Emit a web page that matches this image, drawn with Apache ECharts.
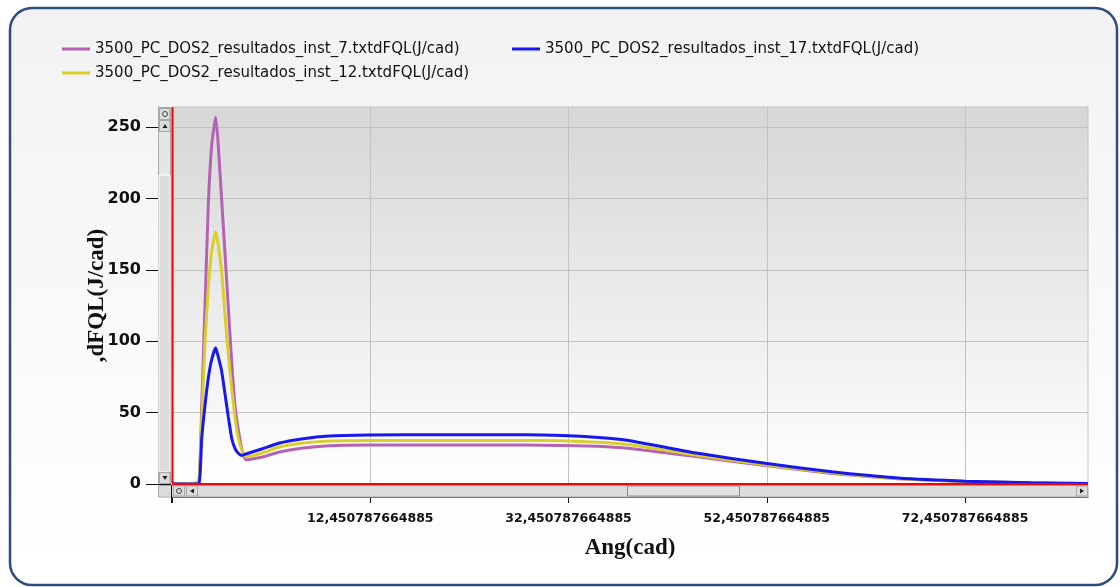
<!DOCTYPE html>
<html>
<head>
<meta charset="utf-8">
<title>dFQL</title>
<script src="https://cdn.jsdelivr.net/npm/echarts@6/dist/echarts.min.js"></script>
<style>
  html, body { margin: 0; padding: 0; background: #ffffff; }
  #chart { width: 1120px; height: 587px; }
</style>
</head>
<body>
<div id="chart"></div>
<script>
// 数据
let angles = [-7.549212335115, -5.5, -4.83, -4.55, -4.22, -3.89, -3.55, -3.14, -2.88, -2.54, -2.2, -1.87, -1.53, -1.2, -0.86, -0.52, -0.1,
  1.5, 3.2, 5.5, 8.3, 12.3, 20, 28, 31.8, 35.5, 38.5, 45.5, 52.3, 59.0, 65.7, 72.45, 79.1, 84.85]
let inst7 = [0, 0, 2, 55, 125, 195, 237, 257, 237, 199, 161, 124, 86, 55, 38, 25, 17,
  18.7, 22.2, 25, 26.8, 27.3, 27.3, 27.3, 27, 26.5, 25, 19, 13, 7.4, 3.6, 1.7, 0.8, 0.3]
let inst12 = [0, 0, 2, 45, 99, 137, 163, 176.7, 167, 149, 118, 91, 67, 47, 32, 24, 19,
  21.5, 25.7, 28.5, 30.1, 30.5, 30.5, 30.5, 30.2, 29.3, 27.6, 20, 13.5, 7.8, 3.8, 1.8, 0.8, 0.3]
let inst17 = [0, 0, 0, 32, 55, 74, 87, 95.4, 89, 79, 63, 47, 32, 25, 21.5, 20, 21,
  24.5, 28.5, 31.5, 33.6, 34.3, 34.5, 34.5, 34, 32.6, 30.5, 21.5, 14.5, 8.5, 4.2, 2, 0.9, 0.3]

let seriesNames = [
  '3500_PC_DOS2_resultados_inst_7.txtdFQL(J/cad)',
  '3500_PC_DOS2_resultados_inst_12.txtdFQL(J/cad)',
  '3500_PC_DOS2_resultados_inst_17.txtdFQL(J/cad)'
]
let seriesColors = ['#b462b4', '#d8cf2c', '#1818ee']

let xMin = -7.549212335115
let xMax = 84.85
let xTickValues = [-7.549212335115, 12.450787664885, 32.450787664885, 52.450787664885, 72.450787664885]
let xLabelValues = [12.450787664885, 32.450787664885, 52.450787664885, 72.450787664885]
let yTickValues = [0, 50, 100, 150, 200, 250]

function pairs (xs, ys) {
  let out = []
  for (let i = 0; i < xs.length; i++) {
    out.push([xs[i], ys[i]])
  }
  return out
}

function fmtAng (v) {
  return String(+v.toFixed(12)).replace('.', ',')
}

let chart = echarts.init(document.getElementById('chart'))

let scrollFill = '#dcdcdc'
let scrollEdge = '#a8a8a8'
let legendText = { fontFamily: 'DejaVu Sans', fontSize: 15, color: '#111', lineHeight: 16 }

let option = {
  backgroundColor: '#ffffff',
  animation: false,
  legend: [
    {
      orient: 'vertical',
      left: 62,
      top: 41,
      padding: 0,
      icon: 'rect',
      itemWidth: 28,
      itemHeight: 3,
      itemGap: 8,
      data: [seriesNames[0], seriesNames[1]],
      textStyle: legendText
    },
    {
      orient: 'vertical',
      left: 512,
      top: 41,
      padding: 0,
      icon: 'rect',
      itemWidth: 28,
      itemHeight: 3,
      data: [seriesNames[2]],
      textStyle: legendText
    }
  ],
  grid: {
    left: 172,
    right: 32,
    top: 107,
    bottom: 103,
    show: true,
    borderColor: '#c4c4c4',
    borderWidth: 1,
    backgroundColor: new echarts.graphic.LinearGradient(0, 0, 0, 1, [
      { offset: 0, color: '#d6d6d6' },
      { offset: 1, color: '#ffffff' }
    ])
  },
  xAxis: {
    type: 'value',
    min: xMin,
    max: xMax,
    interval: 20,
    offset: 13,
    name: 'Ang(cad)',
    nameLocation: 'middle',
    nameGap: 40,
    nameTextStyle: { fontFamily: 'Liberation Serif', fontWeight: 'bold', fontSize: 23, color: '#111' },
    axisLine: { show: true, onZero: false, lineStyle: { color: '#4a4a4a', width: 1 } },
    axisTick: { show: true, length: 6, customValues: xTickValues, lineStyle: { color: '#111' } },
    axisLabel: {
      customValues: xLabelValues,
      margin: 15,
      fontFamily: 'DejaVu Sans',
      fontWeight: 'bold',
      fontSize: 12.5,
      color: '#111',
      formatter: fmtAng
    },
    splitLine: { show: true, lineStyle: { color: '#c2c2c2', width: 1 } }
  },
  yAxis: {
    type: 'value',
    min: 0,
    max: 264,
    interval: 50,
    offset: 14,
    name: ',dFQL(J/cad)',
    nameLocation: 'middle',
    nameGap: 49,
    nameMoveOverlap: false,
    nameTextStyle: { fontFamily: 'Liberation Serif', fontWeight: 'bold', fontSize: 23, color: '#111' },
    axisLine: { show: true, onZero: false, lineStyle: { color: '#4a4a4a', width: 1 } },
    axisTick: { show: true, length: 12, customValues: yTickValues, lineStyle: { color: '#111' } },
    axisLabel: {
      customValues: yTickValues,
      margin: 17,
      fontFamily: 'DejaVu Sans',
      fontWeight: 'bold',
      fontSize: 16,
      color: '#111'
    },
    splitLine: { show: true, lineStyle: { color: '#c2c2c2', width: 1 } }
  },
  series: [
    {
      name: seriesNames[0],
      type: 'line',
      data: pairs(angles, inst7),
      showSymbol: false,
      smooth: 0.15,
      color: seriesColors[0],
      lineStyle: { width: 3, color: seriesColors[0] }
    },
    {
      name: seriesNames[1],
      type: 'line',
      data: pairs(angles, inst12),
      showSymbol: false,
      smooth: 0.15,
      color: seriesColors[1],
      lineStyle: { width: 3, color: seriesColors[1] }
    },
    {
      name: seriesNames[2],
      type: 'line',
      data: pairs(angles, inst17),
      showSymbol: false,
      smooth: 0.15,
      color: seriesColors[2],
      lineStyle: { width: 3, color: seriesColors[2] },
      markLine: {
        silent: true,
        symbol: 'none',
        label: { show: false },
        lineStyle: { color: '#ff0000', width: 2, type: 'solid' },
        data: [{ yAxis: 0 }]
      }
    }
  ],
  graphic: [
    // outer panel
    {
      type: 'rect',
      z: -10,
      shape: { x: 10, y: 8, width: 1107, height: 577, r: 22 },
      style: {
        fill: new echarts.graphic.LinearGradient(0, 0, 0, 1, [
          { offset: 0, color: '#f2f2f2' },
          { offset: 1, color: '#ffffff' }
        ]),
        stroke: '#2c4d7e',
        lineWidth: 2.5
      }
    },
    // vertical scrollbar
    { type: 'rect', z: 5, shape: { x: 158.5, y: 107.5, width: 12, height: 376.5 }, style: { fill: '#e6e6e6', stroke: scrollEdge, lineWidth: 1 } },
    { type: 'rect', z: 6, shape: { x: 159, y: 175, width: 11, height: 297 }, style: { fill: scrollFill, stroke: '#ffffff', lineWidth: 1 } },
    { type: 'rect', z: 6, shape: { x: 159.5, y: 108.5, width: 10.5, height: 11 }, style: { fill: scrollFill, stroke: scrollEdge, lineWidth: 1 } },
    { type: 'circle', z: 7, shape: { cx: 165, cy: 114, r: 2.5 }, style: { fill: 'none', stroke: '#444', lineWidth: 1 } },
    { type: 'rect', z: 6, shape: { x: 159.5, y: 120.5, width: 10.5, height: 11 }, style: { fill: scrollFill, stroke: scrollEdge, lineWidth: 1 } },
    { type: 'polygon', z: 7, shape: { points: [[165, 124], [162.5, 128], [167.5, 128]] }, style: { fill: '#222' } },
    { type: 'rect', z: 6, shape: { x: 159.5, y: 472.5, width: 10.5, height: 11 }, style: { fill: scrollFill, stroke: scrollEdge, lineWidth: 1 } },
    { type: 'polygon', z: 7, shape: { points: [[165, 480], [162.5, 476], [167.5, 476]] }, style: { fill: '#222' } },
    // horizontal scrollbar
    { type: 'rect', z: 5, shape: { x: 158.5, y: 485.5, width: 929.5, height: 11.5 }, style: { fill: scrollFill, stroke: scrollEdge, lineWidth: 1 } },
    { type: 'rect', z: 6, shape: { x: 627.5, y: 486, width: 112, height: 10 }, style: { fill: '#e2e2e2', stroke: '#8c8c8c', lineWidth: 1 } },
    { type: 'rect', z: 6, shape: { x: 173.5, y: 486, width: 11, height: 10 }, style: { fill: scrollFill, stroke: scrollEdge, lineWidth: 1 } },
    { type: 'circle', z: 7, shape: { cx: 179, cy: 491, r: 2.5 }, style: { fill: 'none', stroke: '#444', lineWidth: 1 } },
    { type: 'rect', z: 6, shape: { x: 186.5, y: 486, width: 11, height: 10 }, style: { fill: scrollFill, stroke: scrollEdge, lineWidth: 1 } },
    { type: 'polygon', z: 7, shape: { points: [[190, 491], [194, 488.5], [194, 493.5]] }, style: { fill: '#222' } },
    { type: 'rect', z: 6, shape: { x: 1076.5, y: 486, width: 11, height: 10 }, style: { fill: scrollFill, stroke: scrollEdge, lineWidth: 1 } },
    { type: 'polygon', z: 7, shape: { points: [[1084, 491], [1080, 488.5], [1080, 493.5]] }, style: { fill: '#222' } },
    // red cursor line on the left edge of the plot
    { type: 'line', z: 8, shape: { x1: 172.5, y1: 107, x2: 172.5, y2: 484 }, style: { stroke: '#ff0000', lineWidth: 2 } },
    // cursor cross at origin
    { type: 'line', z: 8, shape: { x1: 146, y1: 484.5, x2: 171, y2: 484.5 }, style: { stroke: '#111', lineWidth: 1 } },
    { type: 'line', z: 8, shape: { x1: 171.5, y1: 485, x2: 171.5, y2: 503 }, style: { stroke: '#111', lineWidth: 1 } }
  ]
}

chart.setOption(option)
</script>
</body>
</html>
